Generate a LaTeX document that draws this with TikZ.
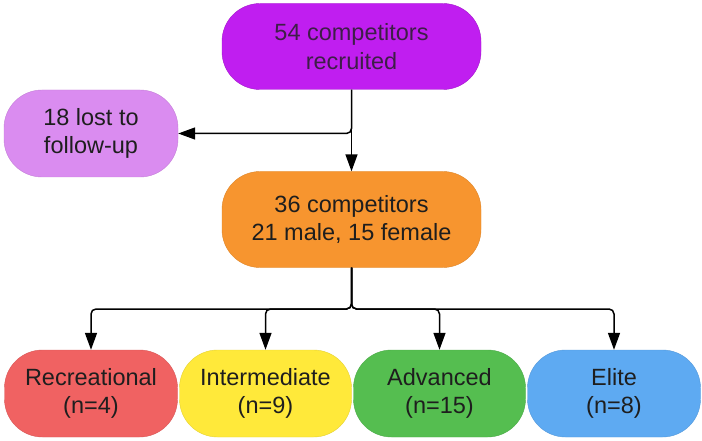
\documentclass[tikz,border=0pt]{standalone}
\usepackage{fontspec}
\setmainfont{Liberation Sans}
\usetikzlibrary{arrows.meta}
\definecolor{cpurple}{HTML}{C01EF0}
\definecolor{clilac}{HTML}{DA8CF0}
\definecolor{corange}{HTML}{F7952F}
\definecolor{cred}{HTML}{F06262}
\definecolor{cyellow}{HTML}{FFE93A}
\definecolor{cgreen}{HTML}{55BE50}
\definecolor{cblue}{HTML}{5EAAF2}
\definecolor{ctext}{HTML}{1E1E1E}
\tikzset{
  box/.style={rounded corners=38pt, align=center, inner sep=0pt,
    font=\fontsize{23.5}{28.5}\selectfont, text=ctext},
  conn/.style={draw=black, line width=1.5pt, rounded corners=5pt,
    -{Triangle[length=17pt,width=12pt]}}
}
\begin{document}
\begin{tikzpicture}[x=1pt,y=-1pt]
\useasboundingbox (0,0) rectangle (702,441);
\node[box, fill=cpurple, draw=cpurple!85!black, minimum width=259pt, minimum height=86pt, text=ctext!80!cpurple] (top) at (351.5,46.5) {54 competitors\\recruited};
\node[box, fill=clilac, draw=clilac!90!black, minimum width=174pt, minimum height=87pt] (lost) at (91,133.5) {18 lost to\\follow-up};
\node[box, fill=corange, draw=corange!90!black, minimum width=259pt, minimum height=96pt] (mid) at (351.5,219.5) {36 competitors\\21 male, 15 female};
\node[box, fill=cred, draw=cred!90!black, minimum width=173pt, minimum height=87pt] (rec) at (91,393.5) {Recreational\\(n=4)};
\node[box, fill=cyellow, draw=cyellow!90!black, minimum width=172pt, minimum height=87pt] (int) at (265.5,393.5) {Intermediate\\(n=9)};
\node[box, fill=cgreen, draw=cgreen!90!black, minimum width=172pt, minimum height=87pt] (adv) at (439.5,393.5) {Advanced\\(n=15)};
\node[box, fill=cblue, draw=cblue!90!black, minimum width=173pt, minimum height=87pt] (eli) at (614,393.5) {Elite\\(n=8)};
\draw[conn] (top.south) -- (mid.north);
\draw[conn] (top.south) |- (lost.east);
\coordinate (bus) at (351.5,309);
\draw[conn] (mid.south) -- (bus) -| (rec.north);
\draw[conn] (mid.south) -- (bus) -| (int.north);
\draw[conn] (mid.south) -- (bus) -| (adv.north);
\draw[conn] (mid.south) -- (bus) -| (eli.north);
\end{tikzpicture}
\end{document}
